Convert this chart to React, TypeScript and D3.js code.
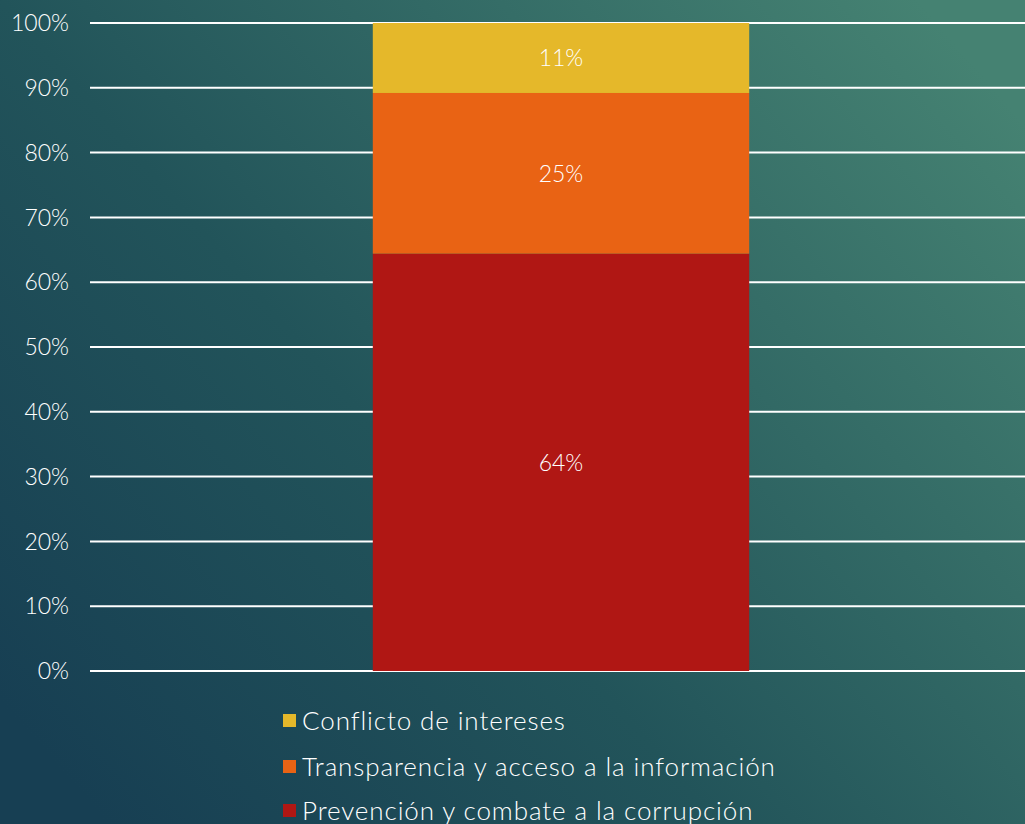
import React from "react";
import * as d3 from "d3";

const categories = ["Total"];
const seriesNames = [
  "Prevención y combate a la corrupción",
  "Transparencia y acceso a la información",
  "Conflicto de intereses",
];
const seriesValues = [64.4, 24.8, 10.8];
const seriesLabels = ["64%", "25%", "11%"];
const seriesColors = ["#b01714", "#e96314", "#e5b82a"];
const yTicks = [0, 10, 20, 30, 40, 50, 60, 70, 80, 90, 100];

const W = 1025;
const H = 824;
const FONT = "Lato, 'Open Sans', 'DejaVu Sans', sans-serif";

export default function App() {
  const y = d3.scaleLinear().domain([0, 100]).range([671, 23]);
  const x = d3.scaleBand().domain(categories).range([90, 1032]).padding(0.429);

  const row: any = {};
  seriesNames.forEach((n, i) => (row[n] = seriesValues[i]));
  const stacked = d3.stack<any>().keys(seriesNames)([row]);

  const legendOrder = [2, 1, 0];
  const legendY = [721, 767, 811];

  return (
    <svg
      width={W}
      height={H}
      style={{ position: "absolute", left: 0, top: 0, display: "block" }}
    >
      <defs>
        <linearGradient id="bg" x1="0" y1="0.85" x2="1" y2="0.15">
          <stop offset="0%" stopColor="#173f53" />
          <stop offset="40%" stopColor="#22545a" />
          <stop offset="100%" stopColor="#458272" />
        </linearGradient>
      </defs>
      <rect x={0} y={0} width={W} height={H} fill="url(#bg)" />
      {yTicks.map((t) => (
        <g key={t}>
          <line x1={90} x2={W} y1={y(t)} y2={y(t)} stroke="#ffffff" strokeWidth={2} />
          <text
            x={69}
            y={y(t)}
            dy="0.36em"
            textAnchor="end"
            fill="#ffffff"
            fontFamily={FONT}
            fontSize={23}
            fontWeight={300}
          >
            {t}%
          </text>
        </g>
      ))}
      {stacked.map((s, i) =>
        s.map((d, j) => (
          <g key={`${i}-${j}`}>
            <rect
              x={x(categories[j])}
              width={x.bandwidth()}
              y={y(d[1])}
              height={y(d[0]) - y(d[1])}
              fill={seriesColors[i]}
            />
            <text
              x={(x(categories[j]) as number) + x.bandwidth() / 2}
              y={(y(d[0]) + y(d[1])) / 2}
              dy="0.36em"
              textAnchor="middle"
              fill="#ffffff"
              fontFamily={FONT}
              fontSize={23}
              fontWeight={300}
            >
              {seriesLabels[i]}
            </text>
          </g>
        ))
      )}
      {legendOrder.map((si, k) => (
        <g key={si}>
          <rect x={283} y={legendY[k] - 7} width={13} height={13} fill={seriesColors[si]} />
          <text
            x={302}
            y={legendY[k]}
            dy="0.36em"
            fill="#ffffff"
            fontFamily={FONT}
            fontSize={26}
            fontWeight={300}
            letterSpacing={0.9}
          >
            {seriesNames[si]}
          </text>
        </g>
      ))}
    </svg>
  );
}
